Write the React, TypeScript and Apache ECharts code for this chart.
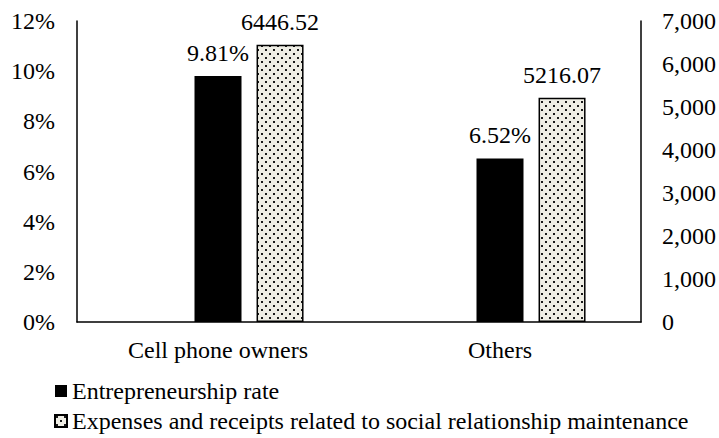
import React, { useEffect, useRef } from "react";
import * as echarts from "echarts";

const categories = ["Cell phone owners", "Others"];
const rateName = "Entrepreneurship rate";
const expenseName = "Expenses and receipts related to social relationship maintenance";
const rateValues = [0.0981, 0.0652];
const expenseValues = [6446.52, 5216.07];
const emptyValues = [null, null];

const FONT = '"Liberation Serif", "Times New Roman", serif';

function makePattern(): HTMLCanvasElement {
  const c = document.createElement("canvas");
  c.width = 8;
  c.height = 8;
  const ctx = c.getContext("2d")!;
  ctx.fillStyle = "#EFEEE5";
  ctx.fillRect(0, 0, 8, 8);
  ctx.fillStyle = "#1a1a1a";
  ctx.fillRect(1, 1, 2, 2);
  ctx.fillRect(5, 5, 2, 2);
  return c;
}

export default function App() {
  const ref = useRef<HTMLDivElement>(null);
  useEffect(() => {
    if (!ref.current) return;
    const chart = echarts.init(ref.current, null, { renderer: "svg" });
    const pattern = makePattern();
    const axisLine = { show: true, lineStyle: { color: "#000", width: 1.5 } };
    chart.setOption({
      animation: false,
      textStyle: { fontFamily: FONT },
      grid: { left: 77, right: 78, top: 21, bottom: 116, containLabel: false },
      legend: {
        orient: "vertical",
        left: 54,
        top: 379,
        padding: 0,
        itemWidth: 12,
        itemHeight: 12,
        itemGap: 6,
        icon: "rect",
        data: [rateName, expenseName],
        textStyle: { fontSize: 24, color: "#000", fontFamily: FONT },
      },
      xAxis: {
        type: "category",
        data: categories,
        axisLine,
        axisTick: { show: false },
        axisLabel: { fontSize: 24, color: "#000", fontFamily: FONT, margin: 16 },
      },
      yAxis: [
        {
          type: "value",
          min: 0,
          max: 0.12,
          interval: 0.02,
          axisLine,
          axisTick: { show: false },
          splitLine: { show: false },
          axisLabel: {
            fontSize: 24,
            color: "#000",
            fontFamily: FONT,
            margin: 22,
            formatter: (v: number) => Math.round(v * 100) + "%",
          },
        },
        {
          type: "value",
          min: 0,
          max: 7000,
          interval: 1000,
          axisLine,
          axisTick: { show: false },
          splitLine: { show: false },
          axisLabel: {
            fontSize: 24,
            color: "#000",
            fontFamily: FONT,
            margin: 21,
            formatter: (v: number) => v.toLocaleString("en-US"),
          },
        },
      ],
      series: [
        {
          type: "bar",
          name: "",
          yAxisIndex: 0,
          data: emptyValues,
          barWidth: 47,
          barGap: "32%",
        },
        {
          type: "bar",
          name: rateName,
          yAxisIndex: 0,
          data: rateValues,
          barWidth: 47,
          barGap: "32%",
          itemStyle: { color: "#000" },
          label: {
            show: true,
            position: "top",
            distance: 11,
            fontSize: 24,
            color: "#000",
            fontFamily: FONT,
            formatter: (p: any) => (p.value * 100).toFixed(2) + "%",
          },
        },
        {
          type: "bar",
          name: expenseName,
          yAxisIndex: 1,
          data: expenseValues,
          barWidth: 47,
          barGap: "32%",
          itemStyle: {
            color: { image: pattern, repeat: "repeat" },
            borderColor: "#000",
            borderWidth: 1.5,
          },
          label: {
            show: true,
            position: "top",
            distance: 11,
            fontSize: 24,
            color: "#000",
            fontFamily: FONT,
            formatter: (p: any) => p.value.toFixed(2),
          },
        },
      ],
    });
    return () => chart.dispose();
  }, []);
  return (
    <div
      ref={ref}
      style={{ position: "fixed", left: 0, top: 0, width: 719, height: 438, background: "#fff" }}
    />
  );
}
